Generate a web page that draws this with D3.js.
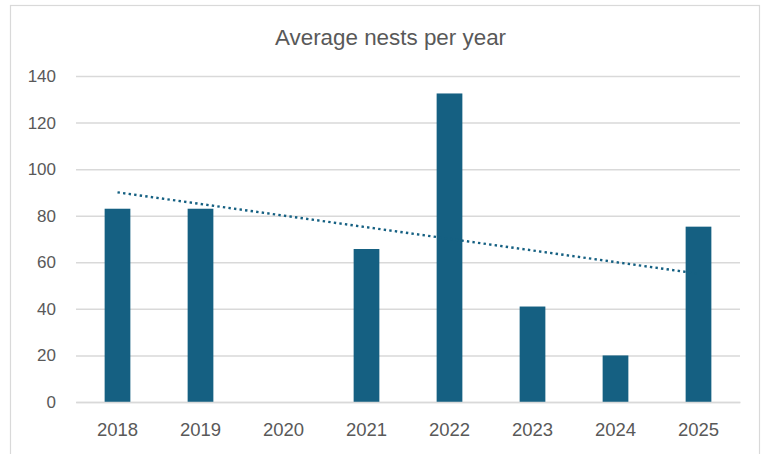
<!DOCTYPE html>
<html><head><meta charset="utf-8">
<script src="https://cdn.jsdelivr.net/npm/d3@7"></script>
<style>html,body{margin:0;padding:0;background:#fff;}svg{display:block;}</style>
</head><body>
<svg id="chart" width="769" height="454"></svg>
<script>
const years = ["2018","2019","2020","2021","2022","2023","2024","2025"];
const nests = [83, 83, null, 65.7, 132.5, 41, 20, 75.3];
const yTicks = [0, 20, 40, 60, 80, 100, 120, 140];
const title = "Average nests per year";

const W = 769, H = 454;
const m = {left: 76, right: 29, top: 76, bottom: 52};
const svg = d3.select("#chart");
const barColor = "#156082";

svg.append("rect").attr("x", 10.5).attr("y", 5.5).attr("width", 749).attr("height", 460)
  .attr("fill", "#fff").attr("stroke", "#d9d9d9").attr("stroke-width", 1.2);

const x = d3.scaleBand().domain(years).range([m.left, W - m.right]).paddingInner(0.69).paddingOuter(0.345);
const y = d3.scaleLinear().domain([0, 140]).range([H - m.bottom, m.top]);

const font = "'Liberation Sans', Arial, sans-serif";

// grid
const yAxis = d3.axisLeft(y).tickValues(yTicks).tickSize(-(W - m.left - m.right)).tickPadding(20);
const gy = svg.append("g").attr("transform", `translate(${m.left},0)`).call(yAxis);
gy.select(".domain").remove();
gy.selectAll(".tick line").attr("stroke", "#d9d9d9").attr("stroke-width", 1.5);
gy.selectAll(".tick text").attr("fill", "#595959").style("font-family", font).style("font-size", "17px");

// bars
svg.append("g").selectAll("rect").data(years.map((d, i) => ({year: d, v: nests[i]})).filter(d => d.v != null))
  .join("rect")
  .attr("x", d => x(d.year)).attr("width", x.bandwidth())
  .attr("y", d => y(d.v)).attr("height", d => y(0) - y(d.v))
  .attr("fill", barColor);

// x axis
const xAxis = d3.axisBottom(x).tickSize(0).tickPadding(21);
const gx = svg.append("g").attr("transform", `translate(0,${y(0)})`).call(xAxis);
gx.select(".domain").attr("stroke", "#d9d9d9").attr("stroke-width", 1.5);
gx.selectAll(".tick text").attr("fill", "#595959").style("font-family", font).style("font-size", "18.5px");

// linear trendline (blank categories skipped, x = category index)
const pts = nests.map((v, i) => ({i: i + 1, v})).filter(d => d.v != null);
const mx = d3.mean(pts, d => d.i), my = d3.mean(pts, d => d.v);
const slope = d3.sum(pts, d => (d.i - mx) * (d.v - my)) / d3.sum(pts, d => (d.i - mx) ** 2);
const icpt = my - slope * mx;
const trend = [1, years.length].map(i => ({year: years[i - 1], v: icpt + slope * i}));
svg.append("path")
  .attr("d", d3.line().x(d => x(d.year) + x.bandwidth() / 2).y(d => y(d.v))(trend))
  .attr("fill", "none").attr("stroke", barColor).attr("stroke-width", 2.4)
  .attr("stroke-dasharray", "2.4 3.2");

svg.append("text").attr("x", 390.5).attr("y", 45).attr("text-anchor", "middle")
  .attr("fill", "#595959").style("font-family", "'Liberation Sans Narrow', 'Liberation Sans', sans-serif")
  .style("font-size", "22.4px").text(title);
</script>
</body></html>
